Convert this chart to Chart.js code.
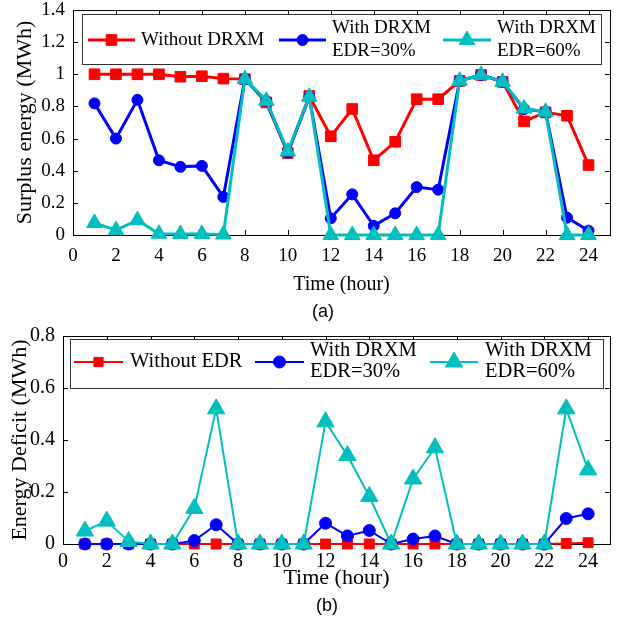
<!DOCTYPE html>
<html><head><meta charset="utf-8">
<script src="https://cdn.jsdelivr.net/npm/chart.js@4.4.1/dist/chart.umd.min.js"></script>
<style>
html,body{margin:0;padding:0;background:#fff;}
#wrap{position:relative;width:621px;height:620px;overflow:hidden;background:#fff;}
#ca{position:absolute;left:0;top:0;width:621px;height:300px;}
#cb{position:absolute;left:0;top:315px;width:621px;height:305px;}
.cap{position:absolute;font-family:"Liberation Sans",Arial,sans-serif;font-size:18px;color:#000;transform:translate(-50%,-50%);white-space:nowrap;}
</style></head><body>
<div id="wrap">
<canvas id="ca" width="621" height="300"></canvas>
<canvas id="cb" width="621" height="305"></canvas>
<div class="cap" style="left:323px;top:311px">(a)</div>
<div class="cap" style="left:327px;top:605px">(b)</div>
</div>
<script>
// ---------- data ----------
const hours = [1,2,3,4,5,6,7,8,9,10,11,12,13,14,15,16,17,18,19,20,21,22,23,24];
const xTickValues = [0,2,4,6,8,10,12,14,16,18,20,22,24];
const surplusTicks = [0,0.2,0.4,0.6,0.8,1,1.2,1.4];
const deficitTicks = [0,0.2,0.4,0.6,0.8];

const surplusLabels = ['Without DRXM', 'With DRXM\nEDR=30%', 'With DRXM\nEDR=60%'];
const deficitLabels = ['Without EDR', 'With DRXM\nEDR=30%', 'With DRXM\nEDR=60%'];

const surplusWithout = [1.0,1.0,1.0,1.0,0.985,0.988,0.973,0.97,0.825,0.51,0.865,0.614,0.784,0.465,0.58,0.845,0.845,0.959,0.996,0.953,0.707,0.763,0.742,0.435];
const surplusEdr30  = [0.819,0.60,0.841,0.465,0.424,0.43,0.237,0.97,0.835,0.512,0.858,0.104,0.253,0.057,0.135,0.298,0.282,0.959,0.996,0.953,0.784,0.767,0.108,0.027];
const surplusEdr60  = [0.075,0.03,0.092,0.008,0.006,0.006,0.003,0.97,0.835,0.52,0.86,0,0,0,0,0,0,0.96,0.996,0.953,0.787,0.767,0,0];

const deficitWithout = [0,0,0,0,0,0,0,0,0,0,0,0,0,0,0,0,0,0,0,0,0,0,0.002,0.005];
const deficitEdr30  = [0,0,0,0,0,0.013,0.074,0,0,0,0,0.08,0.031,0.052,0,0.019,0.031,0,0,0,0,0,0.098,0.116];
const deficitEdr60  = [0.05,0.088,0.01,0,0,0.137,0.52,0,0,0,0,0.47,0.34,0.183,0,0.25,0.37,0,0,0,0,0,0.52,0.285];

// ---------- styles ----------
const colors = ['#FF0000', '#0000FF', '#00BFBF'];
const pointStyles = ['rect', 'circle', 'triangle'];
const SERIF = '"Liberation Serif","Times New Roman",serif';

function drawMarker(ctx, style, x, y, r, color) {
  ctx.save();
  ctx.fillStyle = color; ctx.strokeStyle = color; ctx.lineWidth = 1;
  ctx.beginPath();
  if (style === 'rect') {
    const s = Math.SQRT1_2 * r;
    ctx.rect(x - s, y - s, 2 * s, 2 * s);
  } else if (style === 'circle') {
    ctx.arc(x, y, r, 0, Math.PI * 2);
  } else {
    let rad = 0;
    ctx.moveTo(x + Math.sin(rad) * r, y - Math.cos(rad) * r);
    rad += 2 * Math.PI / 3;
    ctx.lineTo(x + Math.sin(rad) * r, y - Math.cos(rad) * r);
    rad += 2 * Math.PI / 3;
    ctx.lineTo(x + Math.sin(rad) * r, y - Math.cos(rad) * r);
    ctx.closePath();
  }
  ctx.fill(); ctx.stroke();
  ctx.restore();
}

function framePlugin(yTicks) {
  return {
    id: 'frame',
    beforeDatasetsDraw(chart) {
      const {ctx, chartArea: a, scales} = chart;
      ctx.save();
      ctx.strokeStyle = '#000'; ctx.lineWidth = 1;
      ctx.strokeRect(Math.round(a.left) + 0.5, Math.round(a.top) + 0.5, Math.round(a.right - a.left), Math.round(a.bottom - a.top));
      const tl = 5;
      ctx.beginPath();
      xTickValues.forEach(v => {
        const px = Math.round(scales.x.getPixelForValue(v)) + 0.5;
        ctx.moveTo(px, a.bottom); ctx.lineTo(px, a.bottom - tl);
        ctx.moveTo(px, a.top); ctx.lineTo(px, a.top + tl);
      });
      yTicks.forEach(v => {
        const py = Math.round(scales.y.getPixelForValue(v)) + 0.5;
        ctx.moveTo(a.left, py); ctx.lineTo(a.left + tl, py);
        ctx.moveTo(a.right, py); ctx.lineTo(a.right - tl, py);
      });
      ctx.stroke();
      ctx.restore();
    }
  };
}

function legendPlugin(spec) {
  return {
    id: 'boxLegend',
    afterDatasetsDraw(chart) {
      const ctx = chart.ctx;
      ctx.save();
      ctx.fillStyle = '#fff';
      ctx.fillRect(spec.box[0], spec.box[1], spec.box[2] - spec.box[0], spec.box[3] - spec.box[1]);
      ctx.strokeStyle = '#333'; ctx.lineWidth = 1;
      ctx.strokeRect(spec.box[0] + 0.5, spec.box[1] + 0.5, spec.box[2] - spec.box[0], spec.box[3] - spec.box[1]);
      chart.data.datasets.forEach((ds, i) => {
        const it = spec.items[i];
        ctx.strokeStyle = ds.borderColor; ctx.lineWidth = ds.borderWidth;
        ctx.beginPath(); ctx.moveTo(it.x0, spec.y); ctx.lineTo(it.x1, spec.y); ctx.stroke();
        drawMarker(ctx, ds.pointStyle, (it.x0 + it.x1) / 2, spec.y, spec.radii[i], ds.borderColor);
        const lines = ds.label.split('\n');
        ctx.fillStyle = '#000'; ctx.font = spec.font; ctx.textBaseline = 'middle'; ctx.textAlign = 'left';
        if (lines.length === 1) ctx.fillText(lines[0], it.tx, spec.y);
        else lines.forEach((t, k) => ctx.fillText(t, it.tx, spec.lineYs[k]));
      });
      ctx.restore();
    }
  };
}

function makeChart(canvas, c) {
  const datasets = c.series.map((vals, i) => ({
    label: c.labels[i],
    data: hours.map((h, k) => ({x: h, y: vals[k]})),
    borderColor: colors[i],
    backgroundColor: colors[i],
    pointBackgroundColor: colors[i],
    pointBorderColor: colors[i],
    pointBorderWidth: 1,
    borderWidth: c.lineWidth,
    pointStyle: pointStyles[i],
    pointRadius: c.radii[i],
    tension: 0,
    clip: false,
    order: 3 - i
  }));
  return new Chart(canvas, {
    type: 'line',
    data: {datasets},
    options: {
      responsive: false,
      animation: false,
      events: [],
      layout: {padding: c.padding},
      plugins: {legend: {display: false}, tooltip: {enabled: false}},
      scales: {
        x: {
          type: 'linear', min: 0, max: 25,
          afterBuildTicks: s => { s.ticks = xTickValues.map(v => ({value: v})); },
          afterFit: s => { s.height = c.xHeight; s.paddingLeft = 0; s.paddingRight = 0; },
          grid: {display: false, drawTicks: false},
          border: {display: false},
          ticks: {color: '#000', font: {family: SERIF, size: c.tickSize}, padding: c.xTickPad, maxRotation: 0, autoSkip: false, callback: v => String(v)},
          title: {display: true, text: 'Time (hour)', color: '#000', font: {family: SERIF, size: c.xTitleSize}, padding: {top: 0, bottom: c.xTitlePad}}
        },
        y: {
          type: 'linear', min: 0, max: c.yMax,
          afterBuildTicks: s => { s.ticks = c.yTicks.map(v => ({value: v})); },
          afterFit: s => { s.width = c.yWidth; s.paddingTop = 0; s.paddingBottom = 0; },
          grid: {display: false, drawTicks: false},
          border: {display: false},
          ticks: {color: '#000', font: {family: SERIF, size: c.tickSize}, padding: 8, autoSkip: false, callback: v => String(v)},
          title: {display: true, text: c.yTitle, color: '#000', font: {family: SERIF, size: 22}, padding: {top: c.yTitlePad, bottom: 0}}
        }
      }
    },
    plugins: [framePlugin(c.yTicks), legendPlugin(c.legend)]
  });
}

makeChart(document.getElementById('ca'), {
  series: [surplusWithout, surplusEdr30, surplusEdr60],
  labels: surplusLabels,
  lineWidth: 3,
  radii: [7.5, 5.5, 9],
  padding: {left: 0, right: 11, top: 9, bottom: 0},
  xHeight: 65, yWidth: 73,
  tickSize: 19, xTickPad: 10, xTitleSize: 20, xTitlePad: 3, yTitlePad: 12,
  yMax: 1.4, yTicks: surplusTicks, yTitle: 'Surplus energy (MWh)',
  legend: {
    box: [82, 14, 601, 64], y: 40, lineYs: [28, 51],
    font: '19px ' + SERIF, radii: [7.5, 5.5, 9],
    items: [{x0: 88, x1: 135, tx: 141}, {x0: 279, x1: 326, tx: 332}, {x0: 443, x1: 491, tx: 497}]
  }
});

makeChart(document.getElementById('cb'), {
  series: [deficitWithout, deficitEdr30, deficitEdr60],
  labels: deficitLabels,
  lineWidth: 2,
  radii: [7, 6, 10],
  padding: {left: 0, right: 5, top: 21, bottom: 0},
  xHeight: 76, yWidth: 63,
  tickSize: 20, xTickPad: 6, xTitleSize: 22, xTitlePad: 29, yTitlePad: 7,
  yMax: 0.8, yTicks: deficitTicks, yTitle: 'Energy Deficit (MWh)',
  legend: {
    box: [70, 24, 603, 73], y: 47, lineYs: [36, 57],
    font: '20.5px ' + SERIF, radii: [6.5, 6, 10],
    items: [{x0: 74, x1: 123, tx: 130}, {x0: 255, x1: 304, tx: 310}, {x0: 430, x1: 478, tx: 485}]
  }
});
</script>
</body></html>
